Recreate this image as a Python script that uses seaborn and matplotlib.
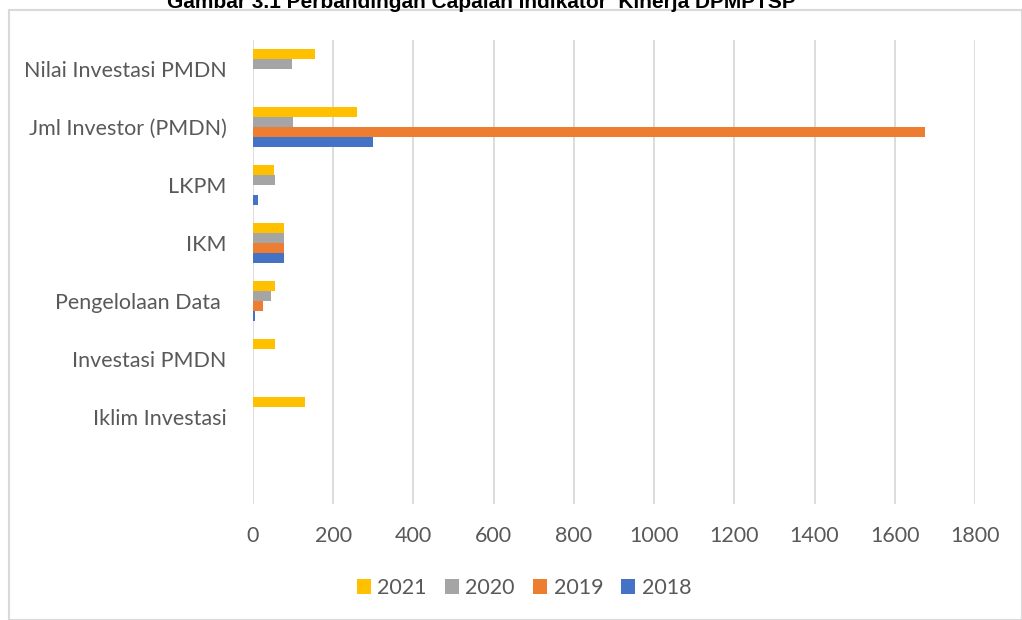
import numpy as np
import pandas as pd
import seaborn as sns
import matplotlib.pyplot as plt
from matplotlib.patches import Rectangle, Patch

categories = ["Nilai Investasi PMDN", "Jml Investor (PMDN)", "LKPM", "IKM",
              "Pengelolaan Data ", "Investasi PMDN", "Iklim Investasi", " "]
years = ["2021", "2020", "2019", "2018"]
v2021 = [155, 260, 52, 78, 56, 55, 130, np.nan]
v2020 = [96, 100, 55, 77, 46, np.nan, np.nan, np.nan]
v2019 = [np.nan, 1675, np.nan, 78, 26, np.nan, np.nan, np.nan]
v2018 = [np.nan, 300, 13, 77, 5, np.nan, np.nan, np.nan]
colors = ["#FFC000", "#A5A5A5", "#ED7D31", "#4472C4"]
xticks = [0, 200, 400, 600, 800, 1000, 1200, 1400, 1600, 1800]
title = "Gambar 3.1 Perbandingan Capaian Indikator  Kinerja DPMPTSP"

rows = []
for y, vals in zip(years, [v2021, v2020, v2019, v2018]):
    for c, v in zip(categories, vals):
        rows.append({"cat": c, "year": y, "val": v})
df = pd.DataFrame(rows)

sns.set_theme(style="white")
plt.rcParams["font.family"] = ["Lato", "DejaVu Sans"]

fig = plt.figure(figsize=(10.22, 6.2), dpi=100)
ax = fig.add_axes([253/1022, 1-504/620, (975-253)/1022, (504-40)/620])

sns.barplot(data=df, y="cat", x="val", hue="year", order=categories,
            hue_order=years, palette=colors, orient="h", width=0.69,
            gap=0, ax=ax, legend=False, saturation=1, linewidth=0)

ax.set_xlim(0, 1800)
ax.set_xticks(xticks)
ax.set_xticklabels([str(t) for t in xticks])
ax.set_xlabel("")
ax.set_ylabel("")
ax.grid(axis="x", color="#D9D9D9", linewidth=1.3)
ax.set_axisbelow(True)
for s in ax.spines.values():
    s.set_visible(False)
ax.tick_params(axis="both", length=0, labelsize=15.5, colors="#595959")
ax.tick_params(axis="x", pad=16)
ax.tick_params(axis="y", pad=19)

handles = [Patch(facecolor=c, edgecolor="none", label=y) for c, y in zip(colors, years)]
fig.legend(handles=handles, loc="center", bbox_to_anchor=(524/1022, 1-588/620),
           ncol=4, frameon=False, fontsize=15.5, handlelength=0.65,
           handleheight=0.65, handletextpad=0.3, columnspacing=0.85,
           labelcolor="#595959")

fig.patches.append(Rectangle((9/1022, 0), 1 - 9/1022, 1 - 10/620,
                             transform=fig.transFigure, fill=False,
                             edgecolor="#D9D9D9", linewidth=1.5))
fig.text(481/1022, 1-8/620, title, ha="center", va="baseline",
         fontsize=15, fontweight="bold", color="black",
         family=["Liberation Sans", "DejaVu Sans"])

fig.savefig("out.png", dpi=100)
